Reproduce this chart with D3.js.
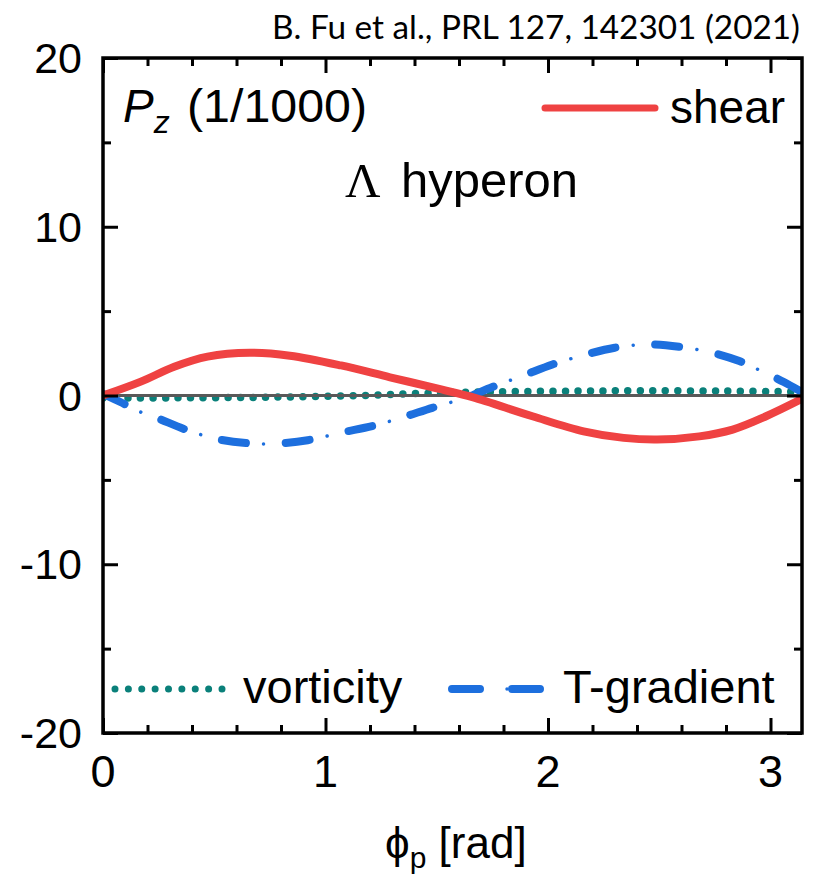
<!DOCTYPE html>
<html>
<head>
<meta charset="utf-8">
<script src="https://cdn.jsdelivr.net/npm/d3@7"></script>
<style>
  html, body { margin: 0; padding: 0; background: #fff; }
  svg { display: block; }
</style>
</head>
<body>
<script>
// Polarization Pz (in units of 1/1000) of the Lambda hyperon versus azimuthal angle phi_p
const shearPhi = [0, 0.17, 0.32, 0.47, 0.66, 0.84, 1.07, 1.29, 1.52, 1.66, 1.93, 2.16, 2.34, 2.49, 2.68, 2.83, 2.98, 3.1416];
const shearVal = [0, 0.82, 1.70, 2.30, 2.53, 2.36, 1.78, 1.08, 0.36, -0.10, -1.23, -2.12, -2.51, -2.61, -2.42, -2.02, -1.23, -0.20];

const tgradPhi = [0, 0.08, 0.17, 0.24, 0.38, 0.51, 0.65, 0.75, 0.92, 1.07, 1.22, 1.34, 1.48, 1.58, 1.63, 1.75, 1.89, 2.02, 2.17, 2.30, 2.44, 2.59, 2.74, 2.86, 2.96, 3.06, 3.1416];
const tgradVal = [0.10, -0.40, -0.99, -1.32, -2.06, -2.57, -2.83, -2.87, -2.65, -2.20, -1.78, -1.32, -0.73, -0.34, -0.14, 0.50, 1.19, 1.84, 2.43, 2.83, 3.03, 2.89, 2.53, 2.04, 1.44, 0.80, 0.20];

const vortPhi = [0, 0.30, 0.60, 0.87, 1.17, 1.37, 1.57, 1.75, 2.10, 2.43, 2.80, 3.1416];
const vortVal = [-0.15, -0.14, -0.12, -0.08, 0.00, 0.10, 0.17, 0.22, 0.26, 0.28, 0.26, 0.22];

const xTicks = [0, 1, 2, 3];
const yTicks = [-20, -10, 0, 10, 20];
const xTickLabels = ["0", "1", "2", "3"];
const yTickLabels = ["-20", "-10", "0", "10", "20"];

const W = 813, H = 879;
const mLeft = 103, mRight = 802, mTop = 58, mBottom = 733;
const sans = "'Liberation Sans', Arial, sans-serif";

const svg = d3.select("body").append("svg").attr("width", W).attr("height", H)
  .attr("font-family", sans);

const x = d3.scaleLinear().domain([0, Math.PI]).range([mLeft, mRight]);
const y = d3.scaleLinear().domain([-20, 20]).range([mBottom, mTop]);

const colors = { shear: "#ef4242", tgrad: "#1d6fde", vort: "#0a807a", zero: "#595959" };

// clipping region = plot frame
svg.append("defs").append("clipPath").attr("id", "plotClip")
  .append("rect").attr("x", mLeft).attr("y", mTop).attr("width", mRight - mLeft).attr("height", mBottom - mTop);

const line = d3.line().x(d => x(d[0])).y(d => y(d[1])).curve(d3.curveCatmullRom.alpha(0.5));
const zip = (a, b) => a.map((v, i) => [v, b[i]]);

const plot = svg.append("g").attr("clip-path", "url(#plotClip)");

// vorticity: dotted teal
plot.append("path").datum(zip(vortPhi, vortVal)).attr("d", line)
  .attr("fill", "none").attr("stroke", colors.vort).attr("stroke-width", 7.5)
  .attr("stroke-linecap", "round").attr("stroke-dasharray", "0 12.5");

// zero reference line
plot.append("path").datum([[0, 0], [Math.PI, 0]]).attr("d", line)
  .attr("fill", "none").attr("stroke", colors.zero).attr("stroke-width", 3);

// T-gradient: dash-dot blue (thick dashes + small dots)
const tg = zip(tgradPhi, tgradVal);
plot.append("path").datum(tg).attr("d", line)
  .attr("fill", "none").attr("stroke", colors.tgrad).attr("stroke-width", 8)
  .attr("stroke-linecap", "round").attr("stroke-dasharray", "24 40");
plot.append("path").datum(tg).attr("d", line)
  .attr("fill", "none").attr("stroke", colors.tgrad).attr("stroke-width", 3.5)
  .attr("stroke-linecap", "round").attr("stroke-dasharray", "0.01 63.99").attr("stroke-dashoffset", 22);

// shear: solid red
plot.append("path").datum(zip(shearPhi, shearVal)).attr("d", line)
  .attr("fill", "none").attr("stroke", colors.shear).attr("stroke-width", 8)
  .attr("stroke-linejoin", "round");

// axes with inward ticks on all four sides
const xMinor = d3.range(0, Math.PI, 0.2).filter(v => Math.abs(v - Math.round(v)) > 1e-6);
const yMinor = [-15, -5, 5, 15];

function tickSide(axisGen, scale, major, minor, transform) {
  const g1 = svg.append("g").attr("transform", transform)
    .call(axisGen(scale).tickValues(major).tickSize(-15).tickFormat(""));
  const g2 = svg.append("g").attr("transform", transform)
    .call(axisGen(scale).tickValues(minor).tickSize(-8).tickFormat(""));
  [g1, g2].forEach(g => {
    g.select(".domain").remove();
    g.selectAll("line").attr("stroke", "#000").attr("stroke-width", 3);
  });
}
tickSide(d3.axisBottom, x, xTicks, xMinor, `translate(0,${mBottom})`);
tickSide(d3.axisTop, x, xTicks, xMinor, `translate(0,${mTop})`);
tickSide(d3.axisLeft, y, yTicks, yMinor, `translate(${mLeft},0)`);
tickSide(d3.axisRight, y, yTicks, yMinor, `translate(${mRight},0)`);

svg.append("rect").attr("x", mLeft).attr("y", mTop).attr("width", mRight - mLeft).attr("height", mBottom - mTop)
  .attr("fill", "none").attr("stroke", "#000").attr("stroke-width", 3.5);

// tick labels
svg.append("g").selectAll("text").data(xTicks).join("text")
  .attr("x", d => x(d)).attr("y", 787).attr("text-anchor", "middle")
  .attr("font-size", 45).text((d, i) => xTickLabels[i]);
svg.append("g").selectAll("text").data(yTicks).join("text")
  .attr("x", 82).attr("y", d => y(d) + 15).attr("text-anchor", "end")
  .attr("font-size", 43).text((d, i) => yTickLabels[i]);

// x-axis title
const xt = svg.append("text").attr("x", 385).attr("y", 858).attr("font-size", 44);
xt.append("tspan").text("\u03D5");
xt.append("tspan").attr("font-size", 30).attr("dy", 10).text("p");
xt.append("tspan").attr("dy", -10).text(" [rad]");

// panel labels
const pz = svg.append("text").attr("x", 123).attr("y", 122).attr("font-size", 46);
pz.append("tspan").attr("font-style", "italic").text("P");
pz.append("tspan").attr("font-style", "italic").attr("font-size", 32).attr("dy", 11).text("z");
pz.append("tspan").attr("dy", -11).attr("x", 187).attr("textLength", 180).attr("lengthAdjust", "spacingAndGlyphs").text("(1/1000)");

const hyp = svg.append("text").attr("x", 345).attr("y", 197).attr("font-size", 49);
hyp.append("tspan").attr("font-family", "'Liberation Serif', 'Times New Roman', serif").text("\u039B");
hyp.append("tspan").attr("x", 401).text("hyperon");

// legends
svg.append("line").attr("x1", 545).attr("x2", 655).attr("y1", 108).attr("y2", 108)
  .attr("stroke", colors.shear).attr("stroke-width", 7).attr("stroke-linecap", "round");
svg.append("text").attr("x", 670).attr("y", 123).attr("font-size", 46).text("shear");

svg.append("line").attr("x1", 115).attr("x2", 222.1).attr("y1", 689).attr("y2", 689)
  .attr("stroke", colors.vort).attr("stroke-width", 7).attr("stroke-linecap", "round")
  .attr("stroke-dasharray", "0 13.375");
svg.append("text").attr("x", 243).attr("y", 703).attr("font-size", 47).text("vorticity");

svg.append("line").attr("x1", 452).attr("x2", 541).attr("y1", 689).attr("y2", 689)
  .attr("stroke", colors.tgrad).attr("stroke-width", 8).attr("stroke-linecap", "round")
  .attr("stroke-dasharray", "28 32");
svg.append("line").attr("x1", 452).attr("x2", 541).attr("y1", 689).attr("y2", 689)
  .attr("stroke", colors.tgrad).attr("stroke-width", 3.5).attr("stroke-linecap", "round")
  .attr("stroke-dasharray", "0.01 63.99").attr("stroke-dashoffset", 9);
svg.append("text").attr("x", 563).attr("y", 703).attr("font-size", 47).text("T-gradient");

// citation
svg.append("text").attr("x", 272).attr("y", 39).attr("font-size", 33)
  .attr("font-family", "Lato, 'Open Sans', sans-serif")
  .attr("textLength", 528).attr("lengthAdjust", "spacingAndGlyphs")
  .text("B. Fu et al., PRL 127, 142301 (2021)");
</script>
</body>
</html>
